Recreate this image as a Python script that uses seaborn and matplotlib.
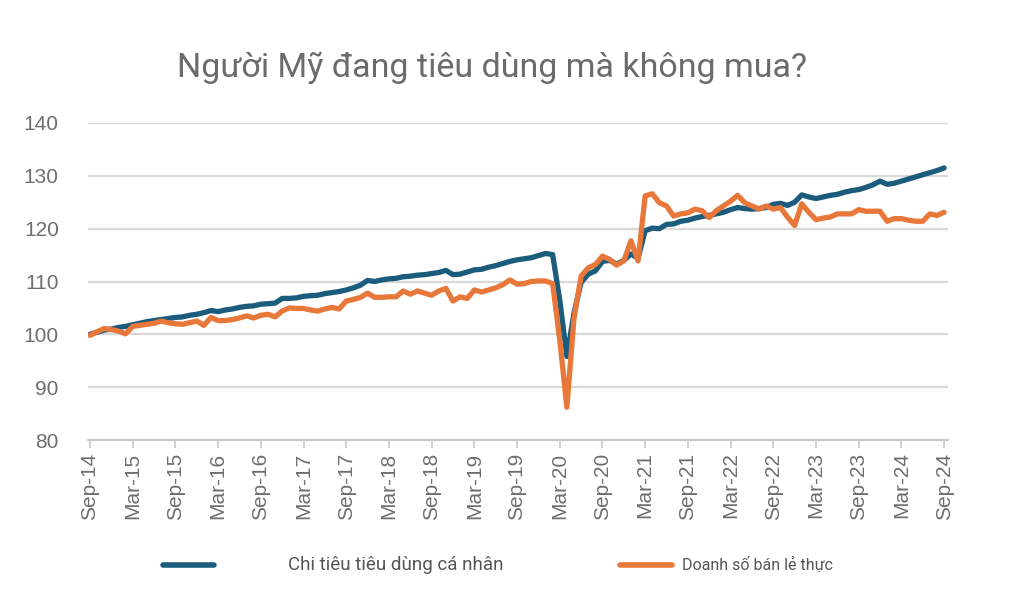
import numpy as np
import pandas as pd
import matplotlib
matplotlib.use("Agg")
import matplotlib.pyplot as plt
from matplotlib.lines import Line2D
import seaborn as sns

# ---- data (monthly, Sep-2014 .. Sep-2024, index Sep-14 = 100) ----
months = pd.date_range("2014-09-01", "2024-09-01", freq="MS")

pce = [
    100.0, 100.4, 100.8, 101.0, 101.3, 101.5, 101.8, 102.1, 102.4, 102.6,
    102.8, 103.0, 103.2, 103.3, 103.6, 103.8, 104.1, 104.5, 104.3, 104.6,
    104.8, 105.1, 105.3, 105.4, 105.7, 105.8, 105.9, 106.8, 106.8, 106.9,
    107.2, 107.3, 107.4, 107.7, 107.9, 108.1, 108.4, 108.8, 109.3, 110.2,
    110.0, 110.3, 110.5, 110.6, 110.9, 111.0, 111.2, 111.3, 111.5, 111.7,
    112.1, 111.3, 111.4, 111.8, 112.2, 112.3, 112.7, 113.0, 113.4, 113.8,
    114.1, 114.3, 114.5, 114.9, 115.3, 115.1, 106.5, 95.8, 104.0, 109.8,
    111.4, 112.0, 113.8, 114.0, 113.3, 114.0, 115.2, 114.4, 119.6, 120.1,
    120.0, 120.8, 120.9, 121.4, 121.6, 122.0, 122.3, 122.5, 122.8, 123.1,
    123.6, 124.0, 123.8, 123.7, 123.8, 124.0, 124.6, 124.8, 124.4, 125.0,
    126.4, 126.0, 125.7, 126.0, 126.3, 126.5, 126.9, 127.2, 127.4, 127.8,
    128.3, 129.0, 128.4, 128.6, 129.0, 129.4, 129.8, 130.2, 130.6, 131.0,
    131.5,
]

retail = [
    99.8, 100.5, 101.1, 100.9, 100.6, 100.1, 101.5, 101.7, 101.9, 102.1,
    102.5, 102.2, 102.0, 101.9, 102.2, 102.5, 101.7, 103.2, 102.6, 102.6,
    102.8, 103.1, 103.5, 103.1, 103.6, 103.8, 103.3, 104.4, 105.0, 104.9,
    104.9, 104.6, 104.4, 104.8, 105.1, 104.8, 106.3, 106.6, 107.0, 107.8,
    107.0, 107.0, 107.1, 107.1, 108.2, 107.6, 108.2, 107.8, 107.4, 108.2,
    108.7, 106.3, 107.1, 106.8, 108.4, 108.0, 108.4, 108.8, 109.4, 110.3,
    109.5, 109.6, 110.0, 110.1, 110.1, 109.6, 99.0, 86.2, 103.0, 111.0,
    112.6, 113.2, 114.8, 114.2, 113.1, 113.9, 117.7, 113.9, 126.2, 126.6,
    124.9, 124.3, 122.4, 122.8, 123.0, 123.7, 123.4, 122.1, 123.4, 124.3,
    125.2, 126.3, 124.9, 124.3, 123.7, 124.3, 123.7, 124.0, 122.2, 120.6,
    124.7, 123.1, 121.7, 122.0, 122.2, 122.8, 122.8, 122.8, 123.6, 123.3,
    123.3, 123.3, 121.4, 121.9, 121.9, 121.6, 121.4, 121.4, 122.8, 122.5,
    123.1,
]

series_names = ["Chi tiêu tiêu dùng cá nhân", "Doanh số bán lẻ thực"]
colors = ["#1b5b7b", "#e8773a"]
title = "Người Mỹ đang tiêu dùng mà không mua?"
y_ticks = [80, 90, 100, 110, 120, 130, 140]

# ---- frame ----
idx = np.arange(len(months))
df = pd.concat([
    pd.DataFrame({"t": idx, "value": pce, "series": series_names[0]}),
    pd.DataFrame({"t": idx, "value": retail, "series": series_names[1]}),
])

sns.set_theme(style="white")
plt.rcParams["font.family"] = ["Liberation Sans", "DejaVu Sans"]

fig = plt.figure(figsize=(10.24, 6.15), dpi=100)
ax = fig.add_axes([88 / 1024, 1 - 440 / 615, 860 / 1024, 317 / 615])

sns.lineplot(data=df, x="t", y="value", hue="series", palette=colors,
             linewidth=3.8, ax=ax, legend=False, solid_capstyle="round")

ax.set_ylim(80, 140)
ax.set_xlim(-0.28, 120.55)
ax.set_yticks(y_ticks)
ax.set_yticklabels([str(v) for v in y_ticks])
tick_pos = idx[::6]
ax.set_xticks(tick_pos)
ax.set_xticklabels([months[i].strftime("%b-%y") for i in tick_pos], rotation=90)

ax.grid(axis="y", color="#d9d9d9", linewidth=1.6)
ax.set_axisbelow(True)
for s in ["top", "right", "left"]:
    ax.spines[s].set_visible(False)
ax.spines["bottom"].set_color("#c8c8c8")
ax.spines["bottom"].set_linewidth(1.5)
ax.tick_params(axis="x", bottom=True, length=6, width=1.2, color="#c8c8c8",
               labelsize=15, labelcolor="#6e6e6e", pad=3)
ax.tick_params(axis="y", left=False, labelsize=15, labelcolor="#6e6e6e", pad=15)
ax.set_xlabel("")
ax.set_ylabel("")

fig.text(492 / 1024, 1 - 68 / 615, title, ha="center", va="center",
         fontsize=24.5, color="#6b6b6b", family=["Roboto", "DejaVu Sans"])

# legend
ly = 1 - 565 / 615
fig.add_artist(Line2D([163 / 1024, 214 / 1024], [ly, ly], color=colors[0],
                      linewidth=4, solid_capstyle="round", transform=fig.transFigure))
fig.text(288 / 1024, ly, series_names[0], ha="left", va="center",
         fontsize=13.5, color="#555555", family=["Roboto", "DejaVu Sans"])
fig.add_artist(Line2D([620 / 1024, 672 / 1024], [ly, ly], color=colors[1],
                      linewidth=4, solid_capstyle="round", transform=fig.transFigure))
fig.text(682 / 1024, ly, series_names[1], ha="left", va="center",
         fontsize=11.5, color="#555555", family=["Roboto", "DejaVu Sans"])

fig.savefig("out.png", dpi=100, facecolor="white")
